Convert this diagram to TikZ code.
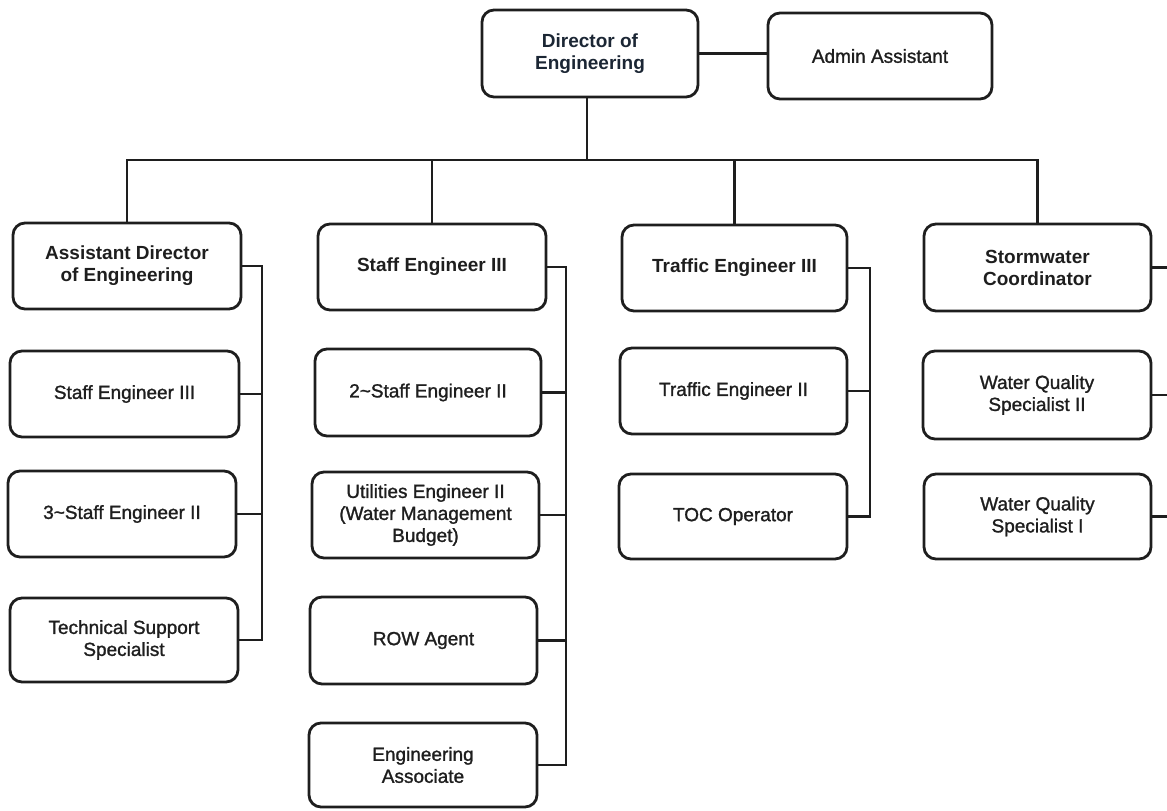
\documentclass[tikz,border=0pt]{standalone}
\usepackage{fontspec}
\setmainfont{Liberation Sans}
\newfontfamily\subfont{Liberation Sans}[FakeBold=1.3]
\definecolor{ink}{HTML}{1E1E1E}
\definecolor{dirink}{HTML}{1B2634}
\tikzset{
  box/.style={draw=ink, line width=2.8pt, rounded corners=12pt, align=center,
    inner sep=2pt, font=\subfont\fontsize{19}{22}\selectfont, text=ink},
  headbox/.style={box, font=\rmfamily\fontsize{19}{22}\selectfont\bfseries},
  link/.style={draw=ink, line width=2.8pt},
}
\begin{document}
\begin{tikzpicture}[x=1pt, y=-1pt]
\useasboundingbox (0,0) rectangle (1167,811);
% top
\node[headbox, text=dirink, minimum width=216pt, minimum height=87pt] (dir) at (590,53.5) {Director of\\Engineering};
\node[box, minimum width=224pt, minimum height=86pt] (admin) at (880,56) {Admin Assistant};
% column 1
\node[headbox, minimum width=228pt, minimum height=86pt] (ad) at (127,266) {Assistant Director\\of Engineering};
\node[box, minimum width=229pt, minimum height=86pt] (c1a) at (124.5,394) {Staff Engineer III};
\node[box, minimum width=228pt, minimum height=86pt] (c1b) at (122,514) {3\textasciitilde Staff Engineer II};
\node[box, minimum width=228pt, minimum height=84pt] (c1c) at (124,640) {Technical Support\\Specialist};
% column 2
\node[headbox, minimum width=228pt, minimum height=86pt] (se) at (432,267) {Staff Engineer III};
\node[box, minimum width=226pt, minimum height=87pt] (c2a) at (428,392.5) {2\textasciitilde Staff Engineer II};
\node[box, minimum width=227pt, minimum height=86pt] (c2b) at (425.5,515) {Utilities Engineer II\\(Water Management\\Budget)};
\node[box, minimum width=227pt, minimum height=87pt] (c2c) at (423.5,640.5) {ROW Agent};
\node[box, minimum width=228pt, minimum height=84pt] (c2d) at (423,765) {Engineering\\Associate};
% column 3
\node[headbox, minimum width=225pt, minimum height=86pt] (te) at (734.5,268) {Traffic Engineer III};
\node[box, minimum width=227pt, minimum height=86pt] (c3a) at (733.5,391) {Traffic Engineer II};
\node[box, minimum width=228pt, minimum height=85pt] (c3b) at (733,516.5) {TOC Operator};
% column 4
\node[headbox, minimum width=227pt, minimum height=87pt] (sw) at (1037.5,267.5) {Stormwater\\Coordinator};
\node[box, minimum width=228pt, minimum height=88pt] (c4a) at (1037,395) {Water Quality\\Specialist II};
\node[box, minimum width=227pt, minimum height=85pt] (c4b) at (1037.5,516.5) {Water Quality\\Specialist I};
% bus coordinates
\coordinate (bus) at (587,160);
\coordinate (v1) at (262,0);
\coordinate (v2) at (566,0);
\coordinate (v3) at (870,0);
\coordinate (edge) at (1167,0);
% top connectors
\draw[link] (dir.east) -- (dir.east -| admin.west);
\draw[link] (dir.south -| bus) -- (bus);
\draw[link] (ad.north) |- (bus) -| (sw.north);
\draw[link] (se.north) -- (se.north |- bus);
\draw[link] (te.north) -- (te.north |- bus);
% column 1 connectors
\draw[link] (ad.east) -- (ad.east -| v1) -- (c1c.east -| v1) -- (c1c.east);
\draw[link] (c1a.east) -- (c1a.east -| v1);
\draw[link] (c1b.east) -- (c1b.east -| v1);
% column 2 connectors
\draw[link] (se.east) -- (se.east -| v2) -- (c2d.east -| v2) -- (c2d.east);
\draw[link] (c2a.east) -- (c2a.east -| v2);
\draw[link] (c2b.east) -- (c2b.east -| v2);
\draw[link] (c2c.east) -- (c2c.east -| v2);
% column 3 connectors
\draw[link] (te.east) -- (te.east -| v3) -- (c3b.east -| v3) -- (c3b.east);
\draw[link] (c3a.east) -- (c3a.east -| v3);
% column 4 connectors (run off the right edge)
\draw[link] (sw.east) -- (sw.east -| edge);
\draw[link] (c4a.east) -- (c4a.east -| edge);
\draw[link] (c4b.east) -- (c4b.east -| edge);
\end{tikzpicture}
\end{document}
